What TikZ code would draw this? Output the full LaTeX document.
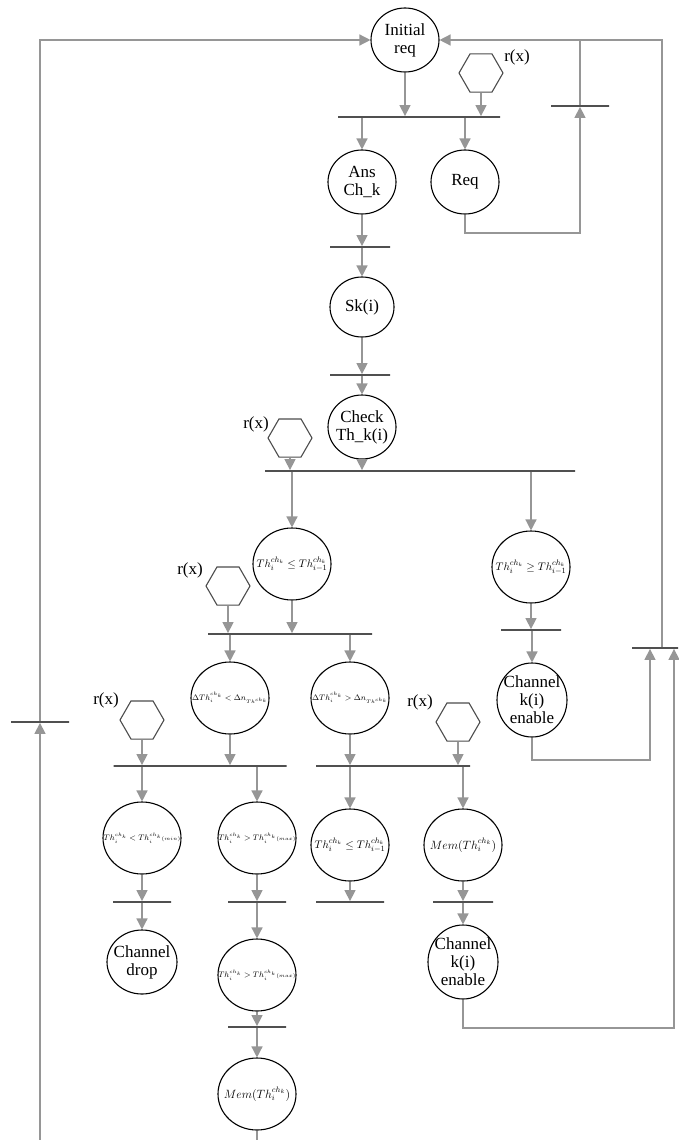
\documentclass[tikz,border=0pt]{standalone}
\usepackage{fontspec}
\setmainfont{Liberation Serif}
\usetikzlibrary{shapes.geometric, arrows.meta, positioning}
\definecolor{arcgray}{RGB}{150,150,150}
\definecolor{bardark}{RGB}{80,80,80}

\begin{document}
\begin{tikzpicture}[x=1pt, y=-1pt,
    cstate/.style={ellipse, draw, line width=1.1pt, minimum width=68pt, minimum height=64pt, inner sep=0pt},
    ccond/.style={cstate, minimum width=78pt, minimum height=72pt},
    ctext/.style={align=center, font=\fontsize{17}{18}\selectfont, inner sep=0pt},
    mtext/.style={font=\fontsize{11}{12}\selectfont, inner sep=0pt},
    dtext/.style={font=\fontsize{7.6}{9}\selectfont, inner sep=0pt},
    memtext/.style={font=\fontsize{12}{13}\selectfont, inner sep=0pt},
    tbar/.style={draw=bardark, line width=1.8pt, minimum height=0pt, inner sep=0pt},
    gate/.style={regular polygon, regular polygon sides=6, draw=black!70, line width=1.1pt, minimum size=44pt, inner sep=0pt},
    rlab/.style={font=\fontsize{17}{18}\selectfont},
    flow/.style={-{Triangle[length=11pt,width=11pt]}, arcgray, line width=1.4pt},
    wire/.style={arcgray, line width=1.4pt}
]
\useasboundingbox (0,0) rectangle (678,1140);

% Request part
\node[cstate, label={[ctext]center:Initial\\req}] (ini) at (405,40) {};
\node[gate] (hx1) at (481,73) {};
\node[rlab] (rx1) at (517,57) {r(x)};
\node[tbar, minimum width=162pt] (b1) at (419,117) {};
\node[cstate, label={[ctext]center:Ans\\Ch\_k}] (ans) at (362,182) {};
\node[cstate, label={[ctext]center:Req}] (req) at (465,182) {};
\node[tbar, minimum width=60pt] (b2) at (360,247) {};
\node[cstate, minimum width=64pt, minimum height=60pt, label={[ctext]center:Sk(i)}] (sk) at (362,307) {};
\node[tbar, minimum width=60pt] (b3) at (360,375) {};
\node[cstate, label={[ctext]center:Check\\Th\_k(i)}] (chk) at (362,427) {};

\draw[flow] (ini) -- (ini |- b1.north);
\draw[flow] (hx1) -- (hx1 |- b1.north);
\draw[flow] (b1.south -| ans) -- (ans);
\draw[flow] (b1.south -| req) -- (req);
\draw[flow] (ans) -- (ans |- b2.north);
\draw[flow] (b2.south -| sk) -- (sk);
\draw[flow] (sk) -- (sk |- b3.north);
\draw[flow] (b3.south -| chk) -- (chk);

% Threshold check
\node[gate] (hx2) at (290,438) {};
\node[rlab] (rx2) at (256,424) {r(x)};
\node[tbar, minimum width=310pt] (b4) at (420,471) {};
\node[ccond, label={[mtext]center:$Th_i^{ch_k}\le Th_{i-1}^{ch_k}$}] (le1) at (292,564) {};
\node[ccond, label={[mtext]center:$Th_i^{ch_k}\ge Th_{i-1}^{ch_k}$}] (ge1) at (531,567) {};
\node[tbar, minimum width=60pt] (b6) at (531,630) {};
\node[cstate, minimum width=70pt, minimum height=74pt, label={[ctext]center:Channel\\k(i)\\enable}] (en1) at (532,700) {};

\draw[flow] (hx2) -- (hx2 |- b4.north);
\draw[flow] (chk) -- (chk |- b4.north);
\draw[flow] (b4.south -| le1) -- (le1);
\draw[flow] (b4.south -| ge1) -- (ge1);
\draw[flow] (ge1) -- (ge1 |- b6.north);
\draw[flow] (b6.south -| en1) -- (en1);

% Delta check
\node[gate] (hx3) at (228,586) {};
\node[rlab] (rx3) at (190,570) {r(x)};
\node[tbar, minimum width=164pt] (b5) at (290,634) {};
\node[ccond, label={[dtext]center:$\Delta Th_i^{ch_k}<\Delta n_{Th^{ch_k}}$}] (dlt) at (230,698) {};
\node[ccond, label={[dtext]center:$\Delta Th_i^{ch_k}>\Delta n_{Th^{ch_k}}$}] (dgt) at (350,698) {};

\draw[flow] (hx3) -- (hx3 |- b5.north);
\draw[flow] (le1) -- (le1 |- b5.north);
\draw[flow] (b5.south -| dlt) -- (dlt);
\draw[flow] (b5.south -| dgt) -- (dgt);

% Min / max / memory
\node[gate] (hx4) at (142,720) {};
\node[rlab] (rx4) at (106,700) {r(x)};
\node[gate] (hx5) at (458,722) {};
\node[rlab] (rx5) at (420,702) {r(x)};
\node[tbar, minimum width=173pt] (b7) at (200,766) {};
\node[tbar, minimum width=154pt] (b8) at (393,766) {};
\node[ccond, label={[dtext]center:$Th_i^{ch_k}<Th_i^{ch_k}{\scriptstyle(min)}$}] (lt) at (142,838) {};
\node[ccond, label={[dtext]center:$Th_i^{ch_k}>Th_i^{ch_k}{\scriptstyle(max)}$}] (gt) at (257,838) {};
\node[ccond, label={[mtext]center:$Th_i^{ch_k}\le Th_{i-1}^{ch_k}$}] (le2) at (350,845) {};
\node[ccond, label={[memtext]center:$Mem(Th_i^{ch_k})$}] (mem1) at (463,845) {};
\node[tbar, minimum width=58pt] (b9) at (142,902) {};
\node[tbar, minimum width=58pt] (b10) at (257,902) {};
\node[tbar, minimum width=68pt] (b11) at (350,902) {};
\node[tbar, minimum width=60pt] (b12) at (463,902) {};
\node[cstate, minimum width=70pt, label={[ctext]center:Channel\\drop}] (drop) at (142,962) {};
\node[ccond, label={[dtext]center:$Th_i^{ch_k}>Th_i^{ch_k}{\scriptstyle(max)}$}] (gt2) at (257,975) {};
\node[cstate, minimum width=70pt, minimum height=74pt, label={[ctext]center:Channel\\k(i)\\enable}] (en2) at (463,962) {};
\node[tbar, minimum width=58pt] (b13) at (257,1027) {};
\node[ccond, label={[memtext]center:$Mem(Th_i^{ch_k})$}] (mem2) at (257,1094) {};
\coordinate (mend) at (257,1140);

\draw[flow] (hx4) -- (hx4 |- b7.north);
\draw[flow] (dlt) -- (dlt |- b7.north);
\draw[flow] (b7.south -| lt) -- (lt);
\draw[flow] (b7.south -| gt) -- (gt);
\draw[flow] (dgt) -- (dgt |- b8.north);
\draw[flow] (hx5) -- (hx5 |- b8.north);
\draw[flow] (b8.south -| le2) -- (le2);
\draw[flow] (b8.south -| mem1) -- (mem1);
\draw[flow] (lt) -- (lt |- b9.north);
\draw[flow] (gt) -- (gt |- b10.north);
\draw[flow] (le2) -- (le2 |- b11.north);
\draw[flow] (mem1) -- (mem1 |- b12.north);
\draw[flow] (b9.south -| drop) -- (drop);
\draw[flow] (b10.south -| gt2) -- (gt2);
\draw[flow] (b12.south -| en2) -- (en2);
\draw[flow] (gt2) -- (gt2 |- b13.north);
\draw[flow] (b13.south -| mem2) -- (mem2);
\draw[wire] (mem2) -- (mend);

% Feedback loops
\coordinate (ltop) at (40,40);
\coordinate (lbot) at (40,1140);
\coordinate (rtop) at (662,40);
\node[tbar, minimum width=58pt] (bl) at (40,722) {};
\node[tbar, minimum width=58pt] (br1) at (580,106) {};
\node[tbar, minimum width=46pt] (br2) at (655,648) {};

\draw[flow] (lbot) -- (bl.south);
\draw[flow] (bl.north) -- (ltop) -- (ini);
\draw[flow] (req) -- ++(0,51) -| (br1.south);
\draw[wire] (br1.north) -- (br1.north |- rtop);
\draw[flow] (br2.north -| rtop) -- (rtop) -- (ini);
\draw[flow] (en1) -- ++(0,60) -| ([xshift=-5pt]br2.south);
\draw[flow] (en2) -- ++(0,66) -| ([xshift=19pt]br2.south);

\end{tikzpicture}
\end{document}
